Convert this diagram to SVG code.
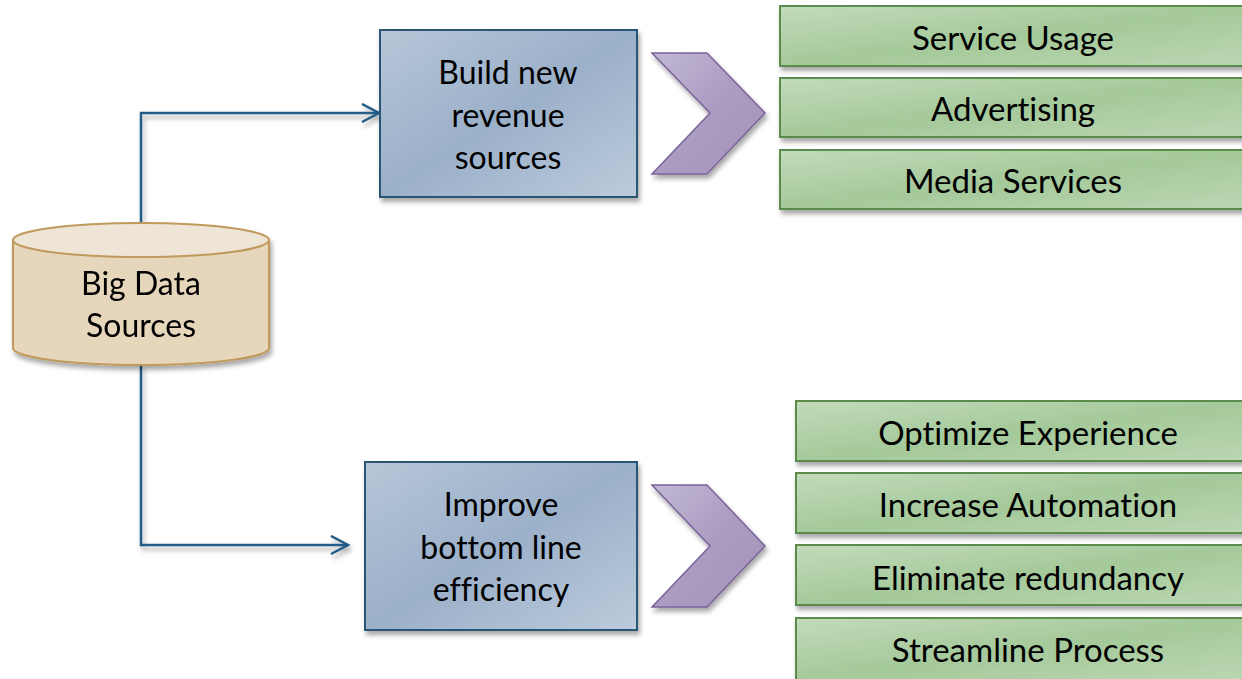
<svg xmlns="http://www.w3.org/2000/svg" width="1242" height="679" viewBox="0 0 1242 679">
<defs>
<style>
text{font-family:Lato,"Open Sans","Liberation Sans",sans-serif;fill:#000;text-anchor:middle;font-variant-ligatures:none;font-feature-settings:"liga" 0,"dlig" 0}
.t1{font-size:32px}
.t2{font-size:32px}
.t3{font-size:33px}
.conn{fill:none;stroke:#225c86;stroke-width:2.5}
.box{fill:url(#gBlue);stroke:#2a5674;stroke-width:2}
.chev{fill:url(#gPurple);stroke:#7a639a;stroke-width:1.5}
.grn{fill:url(#gGreen);stroke:#5b8c4b;stroke-width:2}
</style>
<linearGradient id="gBlue" x1="0" y1="0" x2="1" y2="1">
<stop offset="0" stop-color="#b7c6d8"/><stop offset="0.5" stop-color="#9bb0c9"/><stop offset="1" stop-color="#bccbdc"/>
</linearGradient>
<linearGradient id="gPurple" x1="0" y1="0" x2="1" y2="1">
<stop offset="0" stop-color="#c2b8d3"/><stop offset="0.5" stop-color="#ab9cc2"/><stop offset="1" stop-color="#a393ba"/>
</linearGradient>
<linearGradient id="gGreen" x1="0" y1="0" x2="1" y2="1">
<stop offset="0" stop-color="#c3dbbb"/><stop offset="0.5" stop-color="#a4c99a"/><stop offset="1" stop-color="#bcd7b3"/>
</linearGradient>
<filter id="sh" x="-10%" y="-10%" width="130%" height="140%">
<feGaussianBlur in="SourceAlpha" stdDeviation="2.5"/>
<feOffset dx="2" dy="4" result="b"/>
<feComponentTransfer><feFuncA type="linear" slope="0.35"/></feComponentTransfer>
<feMerge><feMergeNode/><feMergeNode in="SourceGraphic"/></feMerge>
</filter>
<marker id="arr" markerWidth="22" markerHeight="22" refX="18" refY="10" orient="auto" markerUnits="userSpaceOnUse">
<path d="M1,1 L18,10 L1,19" fill="none" stroke="#225c86" stroke-width="2.5"/>
</marker>
</defs>
<g id="connectors" filter="url(#sh)">
<path class="conn" d="M141,222 V113 H379" marker-end="url(#arr)"/>
<path class="conn" d="M141,365 V545 H348" marker-end="url(#arr)"/>
</g>
<g id="node-bigdata" filter="url(#sh)">
<path d="M13,240 V348 A128,17 0 0 0 269,348 V240" fill="#e6d6bb" stroke="#c09a5b" stroke-width="2"/>
<ellipse cx="141" cy="240" rx="128" ry="17" fill="#efe5d7" stroke="#c09a5b" stroke-width="2"/>
<text class="t1" x="141" y="295">Big Data</text>
<text class="t1" x="141" y="337">Sources</text>
</g>
<g id="node-revenue">
<rect class="box" x="380" y="30" width="257" height="167" filter="url(#sh)"/>
<text class="t2" x="508" y="84">Build new</text>
<text class="t2" x="508" y="127">revenue</text>
<text class="t2" x="508" y="169">sources</text>
</g>
<g id="node-efficiency">
<rect class="box" x="365" y="462" width="272" height="168" filter="url(#sh)"/>
<text class="t2" x="501" y="516">Improve</text>
<text class="t2" x="501" y="559">bottom line</text>
<text class="t2" x="501" y="601">efficiency</text>
</g>
<g id="chevron-1">
<polygon class="chev" points="652,53 707,53 765,113 707,174 652,174 710,113" filter="url(#sh)"/>
</g>
<g id="chevron-2">
<polygon class="chev" points="652,485 707,485 765,546 707,607 652,607 710,546" filter="url(#sh)"/>
</g>
<g id="node-service-usage">
<rect class="grn" x="780" y="6" width="470" height="60" filter="url(#sh)"/>
<text class="t3" x="1013" y="50">Service Usage</text>
</g>
<g id="node-advertising">
<rect class="grn" x="780" y="78" width="470" height="59" filter="url(#sh)"/>
<text class="t3" x="1013" y="121">Advertising</text>
</g>
<g id="node-media">
<rect class="grn" x="780" y="150" width="470" height="59" filter="url(#sh)"/>
<text class="t3" x="1013" y="193">Media Services</text>
</g>
<g id="node-optimize">
<rect class="grn" x="796" y="401" width="460" height="60" filter="url(#sh)"/>
<text class="t3" x="1028" y="445">Optimize Experience</text>
</g>
<g id="node-automation">
<rect class="grn" x="796" y="473" width="460" height="60" filter="url(#sh)"/>
<text class="t3" x="1028" y="517">Increase Automation</text>
</g>
<g id="node-redundancy">
<rect class="grn" x="796" y="545" width="460" height="60" filter="url(#sh)"/>
<text class="t3" x="1028" y="590">Eliminate redundancy</text>
</g>
<g id="node-streamline">
<rect class="grn" x="796" y="618" width="460" height="62" filter="url(#sh)"/>
<text class="t3" x="1028" y="662">Streamline Process</text>
</g>
</svg>
